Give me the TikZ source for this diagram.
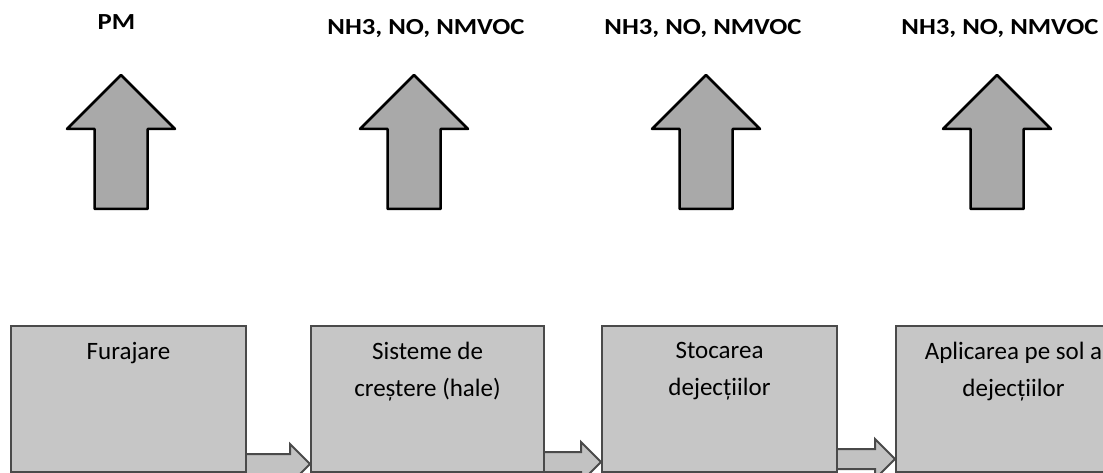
\documentclass[tikz,border=0pt]{standalone}
\usepackage{fontspec}
\setmainfont{Carlito}
\usetikzlibrary{calc}
\definecolor{boxfill}{HTML}{C6C6C6}
\definecolor{boxline}{HTML}{4A4A4A}
\definecolor{upfill}{HTML}{A9A9A9}
\definecolor{smallfill}{HTML}{C2C2C2}
\tikzset{
  emis/.style={font=\fontsize{23}{27}\selectfont\bfseries, inner sep=0pt, text=black},
  stagebox/.style={draw=boxline, fill=boxfill, line width=2pt, minimum width=235pt, minimum height=146pt, anchor=north west, inner sep=0pt},
  stagetext/.style={font=\fontsize{25}{37}\selectfont, align=center, anchor=north, inner sep=0pt, text=black},
  uparrow/.style={draw=black, fill=upfill, line width=2.5pt, line join=round},
  flowarrow/.style={draw=boxline, fill=smallfill, line width=2pt, line join=miter},
}
\begin{document}
\begin{tikzpicture}[x=1pt, y=-1pt]
\useasboundingbox (0,0) rectangle (1103,473);
\clip (0,0) rectangle (1103,473);
\fill[white] (0,0) rectangle (1103,473);
% emission labels
\node[emis] (l1) at (116.5,22.5) {\scalebox{1.16}[1]{PM}};
\node[emis] (l2) at (426,28.5) {\scalebox{1.16}[1]{NH3, NO, NMVOC}};
\node[emis] (l3) at (703,28.5) {\scalebox{1.16}[1]{NH3, NO, NMVOC}};
\node[emis] (l4) at (1000,28.5) {\scalebox{1.16}[1]{NH3, NO, NMVOC}};
% up arrows
\foreach \cx in {121,414,706,997}{
  \draw[uparrow] (\cx,75) -- (\cx+54,129) -- (\cx+26.5,129) -- (\cx+26.5,209) -- (\cx-26.5,209) -- (\cx-26.5,129) -- (\cx-54,129) -- cycle;
}
% stage boxes
\node[stagebox] (b1) at (10,325) {};
\node[stagebox, minimum width=233pt] (b2) at (310,325) {};
\node[stagebox] (b3) at (601,325) {};
\node[stagebox] (b4) at (895,325) {};
\node[stagetext] (t1) at ($(b1.north)+(0,17)$) {Furajare};
\node[stagetext] (t2) at ($(b2.north)+(0,17)$) {Sisteme de\\creștere (hale)};
\node[stagetext] (t3) at ($(b3.north)+(0,17)$) {Stocarea\\dejecțiilor};
\node[stagetext] (t4) at ($(b4.north)+(0,17)$) {Aplicarea pe sol a\\dejecțiilor};
% flow arrows between boxes
\foreach \a/\b/\dy in {b1/b2/-9, b2/b3/-11, b3/b4/-14}{
  \draw[flowarrow]
    ($(\a.south east)+(0,\dy-10)$) -- ($(\b.south west)+(-20,\dy-10)$) -- ($(\b.south west)+(-20,\dy-20)$)
    -- ($(\b.south west)+(0,\dy)$)
    -- ($(\b.south west)+(-20,\dy+20)$) -- ($(\b.south west)+(-20,\dy+10)$) -- ($(\a.south east)+(0,\dy+10)$);
}
\end{tikzpicture}
\end{document}
